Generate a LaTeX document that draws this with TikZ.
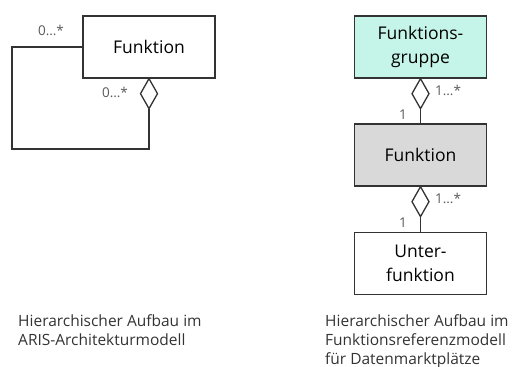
\documentclass[tikz,border=0pt]{standalone}
\usepackage{fontspec}
\setmainfont{Open Sans}
\usetikzlibrary{positioning}
\definecolor{gruppe}{HTML}{C5F5E8}
\definecolor{funk}{HTML}{D9D9D9}
\definecolor{linie}{HTML}{333333}
\begin{document}
\begin{tikzpicture}
    [x=1pt, y=-1pt,
     Box/.style={draw=linie, line width=1.3pt, minimum width=132pt, minimum height=62pt,
                 align=center, inner sep=0pt, font=\fontsize{17.5}{24}\selectfont},
     Link/.style={draw=linie, line width=1.3pt},
     Mult/.style={font=\fontsize{13.5}{15}\selectfont, text=black!65, inner sep=0pt},
     Caption/.style={align=left, anchor=north west, inner sep=0pt,
                     font=\fontsize{15.5}{19}\selectfont, text=black!80}
    ]
\useasboundingbox (0,0) rectangle (512,367);

%left: recursive function in ARIS
\node[Box] (F) at (149,47) {Funktion};
\draw[Link, fill=white] (F.south) -- ++(-8.5,15) -- ++(8.5,15) -- ++(8.5,-15) -- cycle;
\path (F.south) ++(0,30) coordinate (Fd);
\coordinate (Lc) at (12,149);
\draw[Link] (F.west) -| (Lc) -| (Fd);
\node[Mult] (m1) at (51,30) {0…*};
\node[Mult] (m2) at (115,92) {0…*};

%right: three levels
\node[Box, fill=gruppe] (G) at (420.5,47) {Funktions-\\gruppe};
\node[Box, fill=funk] (F2) at (420.5,155) {Funktion};
\node[Box] (U) at (420.5,263.5) {Unter-\\funktion};

\draw[Link, fill=white] (G.south) -- ++(-8.5,15) -- ++(8.5,15) -- ++(8.5,-15) -- cycle;
\path (G.south) ++(0,30) coordinate (Gd);
\draw[Link] (Gd) -- (F2.north);
\node[Mult, anchor=west] (m3) at (435,90) {1…*};
\node[Mult] (m4) at (403,115) {1};

\draw[Link, fill=white] (F2.south) -- ++(-8.5,15) -- ++(8.5,15) -- ++(8.5,-15) -- cycle;
\path (F2.south) ++(0,30) coordinate (Fd2);
\draw[Link] (Fd2) -- (U.north);
\node[Mult, anchor=west] (m5) at (435,198) {1…*};
\node[Mult] (m6) at (403,223) {1};

%captions
\node[Caption] (c1) at (18,314) {Hierarchischer Aufbau im\\ARIS-Architekturmodell};
\node[Caption] (c2) at (325,314) {Hierarchischer Aufbau im\\Funktionsreferenzmodell\\für Datenmarktplätze};

\end{tikzpicture}
\end{document}
